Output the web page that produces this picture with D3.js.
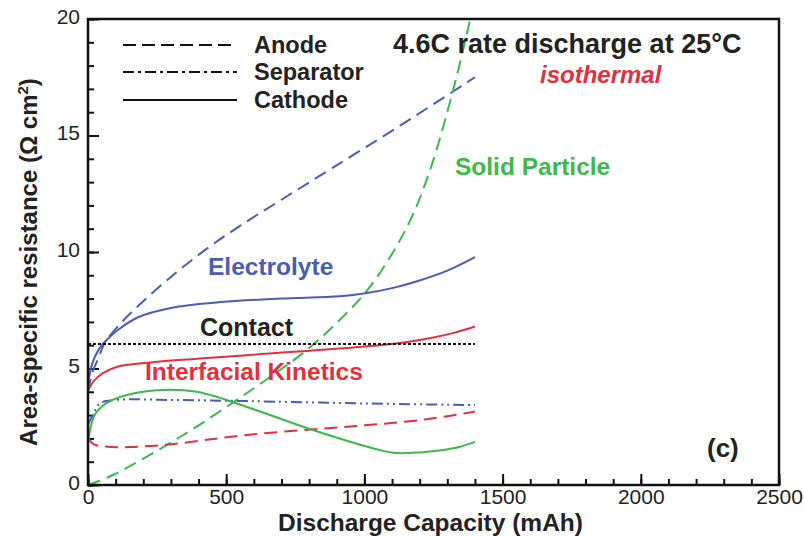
<!DOCTYPE html>
<html>
<head>
<meta charset="utf-8">
<script src="https://cdn.jsdelivr.net/npm/d3@7"></script>
<style>
  body { margin: 0; background: #fff; }
  svg text { font-family: "Liberation Sans", Arial, Helvetica, sans-serif; }
</style>
</head>
<body>
<div id="chart"></div>
<script>
// values: [capacity mAh, resistance ohm cm2]
var anodeElectrolyte = [[0,4.0],[15,4.8],[36,5.4],[61,6.1],[119,6.95],[192,7.8],[300,8.93],[423,10.08],[543,11.07],[698,12.23],[886,13.62],[1129,15.42],[1400,17.5]];
var anodeSolid = [[0,0],[90,0.43],[333,2.06],[575,3.95],[792,5.8],[912,7.1],[1020,8.5],[1154,11.07],[1237,13.5],[1321,16.95],[1382,19.96],[1400,21]];
var anodeKinetics = [[0,2.0],[20,1.75],[60,1.65],[152,1.63],[300,1.75],[575,2.15],[937,2.5],[1176,2.75],[1300,2.95],[1400,3.15]];
var separatorElectrolyte = [[0,2.6],[18,3.0],[43,3.5],[100,3.65],[300,3.65],[575,3.6],[1000,3.5],[1400,3.43]];
var cathodeElectrolyte = [[0,4.3],[15,5.2],[38,5.8],[61,6.15],[108,6.65],[181,7.2],[300,7.6],[481,7.85],[698,8.0],[912,8.1],[1009,8.24],[1100,8.45],[1200,8.78],[1300,9.2],[1400,9.78]];
var cathodeKinetics = [[0,4.05],[20,4.45],[54,4.8],[112,5.1],[235,5.27],[575,5.57],[1056,6.0],[1150,6.13],[1250,6.33],[1330,6.55],[1400,6.8]];
var cathodeSolid = [[0,1.8],[12,2.6],[29,3.1],[65,3.5],[137,3.85],[250,4.07],[394,4.0],[575,3.35],[816,2.35],[1056,1.5],[1117,1.37],[1200,1.4],[1270,1.48],[1340,1.62],[1400,1.85]];
var contact = [[0,6.05],[1400,6.05]];

var xMajor = [0, 500, 1000, 1500, 2000, 2500];
var yMajor = [0, 5, 10, 15, 20];
var legendNames = ["Anode", "Separator", "Cathode"];

var W = 804, H = 537;
// plot box (window.top is taken, so prefix these)
var pLeft = 88, pRight = 779, pTop = 19, pBottom = 485;

var blue = "#4a5db3", red = "#e3303d", green = "#3db84b";

var svg = d3.select("#chart")
	.append("svg")
	.attr("width", W)
	.attr("height", H);

var x = d3.scaleLinear().domain([0, 2500]).range([pLeft, pRight]);
var y = d3.scaleLinear().domain([0, 20]).range([pBottom, pTop]);

svg.append("clipPath")
	.attr("id", "plotclip")
	.append("rect")
	.attr("x", pLeft).attr("y", pTop)
	.attr("width", pRight - pLeft).attr("height", pBottom - pTop);

// ticks inside the frame
var minorX = d3.range(0, 2501, 100);
var minorY = d3.range(0, 21, 1);

svg.append("g")
	.attr("transform", "translate(0," + pBottom + ")")
	.call(d3.axisBottom(x).tickValues(minorX).tickSizeInner(-6).tickSizeOuter(0).tickFormat(""))
	.call(function(g) { g.select(".domain").remove(); });
svg.append("g")
	.attr("class", "xmajor")
	.attr("transform", "translate(0," + pBottom + ")")
	.call(d3.axisBottom(x).tickValues(xMajor).tickSizeInner(-11).tickSizeOuter(0).tickPadding(6).tickFormat(d3.format("d")))
	.call(function(g) { g.select(".domain").remove(); });

svg.append("g")
	.attr("transform", "translate(" + pLeft + ",0)")
	.call(d3.axisLeft(y).tickValues(minorY).tickSizeInner(-6).tickSizeOuter(0).tickFormat(""))
	.call(function(g) { g.select(".domain").remove(); });
svg.append("g")
	.attr("class", "ymajor")
	.attr("transform", "translate(" + pLeft + ",0)")
	.call(d3.axisLeft(y).tickValues(yMajor).tickSizeInner(-11).tickSizeOuter(0).tickPadding(8).tickFormat(d3.format("d")))
	.call(function(g) { g.select(".domain").remove(); });

svg.selectAll(".tick line").attr("stroke", "#111").attr("stroke-width", 2);
svg.selectAll(".tick text")
	.attr("font-size", 21)
	.attr("fill", "#222")
	.style("font-family", "'Liberation Sans', Arial, sans-serif");
svg.selectAll(".ymajor .tick text").attr("dy", "0.2em");
svg.selectAll(".xmajor .tick text").attr("dy", "0.6em");

// curves
var line = d3.line()
	.x(function(d) { return x(d[0]); })
	.y(function(d) { return y(d[1]); })
	.curve(d3.curveCatmullRom.alpha(0.5));

var curves = [
	{ data: anodeElectrolyte, color: blue, dash: "13,7" },
	{ data: anodeSolid, color: green, dash: "13,7" },
	{ data: anodeKinetics, color: red, dash: "13,7" },
	{ data: separatorElectrolyte, color: blue, dash: "11,4,2,4,2,4" },
	{ data: cathodeElectrolyte, color: blue, dash: null },
	{ data: cathodeKinetics, color: red, dash: null },
	{ data: cathodeSolid, color: green, dash: null },
	{ data: contact, color: "#111", dash: "3,2" }
];

var plot = svg.append("g").attr("clip-path", "url(#plotclip)");
plot.selectAll("path.curve")
	.data(curves)
	.enter()
	.append("path")
	.attr("class", "curve")
	.attr("d", function(d) { return line(d.data); })
	.attr("fill", "none")
	.attr("stroke", function(d) { return d.color; })
	.attr("stroke-width", 2)
	.attr("stroke-dasharray", function(d) { return d.dash; });

// frame
svg.append("rect")
	.attr("x", pLeft).attr("y", pTop)
	.attr("width", pRight - pLeft).attr("height", pBottom - pTop)
	.attr("fill", "none")
	.attr("stroke", "#111")
	.attr("stroke-width", 2.5);

// legend
var legendDash = ["13,6", "11,4,3,4", null];
var legendY = [45, 72, 100];
legendNames.forEach(function(name, i) {
	svg.append("line")
		.attr("x1", 123).attr("x2", 237)
		.attr("y1", legendY[i]).attr("y2", legendY[i])
		.attr("stroke", "#111")
		.attr("stroke-width", 2.2)
		.attr("stroke-dasharray", legendDash[i]);
	svg.append("text")
		.attr("x", 254).attr("y", legendY[i] + 8)
		.attr("font-size", 23.5).attr("font-weight", "bold").attr("fill", "#222")
		.text(name);
});

var label = function(txt, px, py, color, size, italic) {
	return svg.append("text")
		.attr("x", px).attr("y", py)
		.attr("font-size", size)
		.attr("font-weight", "bold")
		.attr("font-style", italic ? "italic" : "normal")
		.attr("fill", color)
		.text(txt);
};

label("4.6C rate discharge at 25\u00B0C", 393, 53, "#222", 27, false);
label("isothermal", 540, 83, red, 24, true);
label("Electrolyte", 208, 275, blue, 24.5, false);
label("Contact", 200, 336, "#222", 25, false);
label("Interfacial Kinetics", 145, 380, red, 24.5, false);
label("Solid Particle", 455, 175, green, 24.5, false);
label("(c)", 707, 457, "#222", 26, false);

// axis titles
svg.append("text")
	.attr("x", (pLeft + pRight) / 2 - 3).attr("y", 531)
	.attr("text-anchor", "middle")
	.attr("font-size", 24.5).attr("font-weight", "bold").attr("fill", "#222")
	.text("Discharge Capacity (mAh)");

var yt = svg.append("text")
	.attr("transform", "translate(37,262) rotate(-90)")
	.attr("text-anchor", "middle")
	.attr("font-size", 24).attr("font-weight", "bold").attr("fill", "#222");
yt.append("tspan").text("Area-specific resistance (\u03A9 cm");
yt.append("tspan").attr("dy", -9).attr("font-size", 15).text("2");
yt.append("tspan").attr("dy", 9).text(")");
</script>
</body>
</html>
